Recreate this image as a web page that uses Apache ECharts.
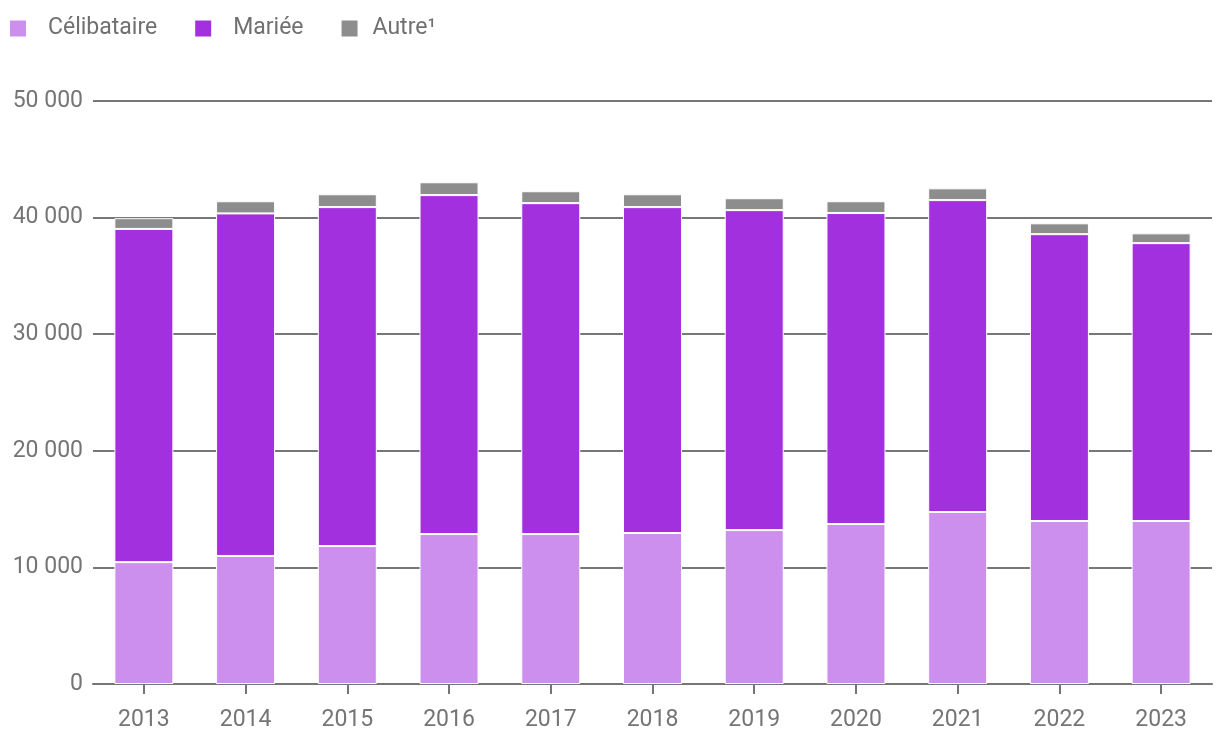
<!DOCTYPE html>
<html>
<head>
<meta charset="utf-8">
<script src="https://cdn.jsdelivr.net/npm/echarts@6/dist/echarts.min.js"></script>
<style>
html,body{margin:0;padding:0;background:#fff;}
#chart{width:1220px;height:752px;}
</style>
</head>
<body>
<div id="chart"></div>
<script>
const years = ['2013','2014','2015','2016','2017','2018','2019','2020','2021','2022','2023'];
const celibataire = [10450, 10980, 11830, 12860, 12860, 12950, 13200, 13720, 14750, 13980, 13980];
const mariee = [28580, 29380, 29070, 29070, 28380, 27950, 27440, 26670, 26750, 24600, 23830];
const autre = [920, 1040, 1100, 1100, 1020, 1100, 1020, 1010, 1010, 930, 840];
const seriesNames = ['Célibataire', 'Mariée', 'Autre¹'];
const colors = ['#cc8fee', '#a230df', '#8d8d8d'];

const chart = echarts.init(document.getElementById('chart'));
const fmt = v => v === 0 ? '0' : String(v).replace(/\B(?=(\d{3})+(?!\d))/g, ' ');
const dataSets = [celibataire, mariee, autre];

chart.setOption({
  animation: false,
  color: colors,
  textStyle: { fontFamily: 'Roboto' },
  legend: {
    left: 10,
    top: 17,
    padding: 0,
    itemWidth: 16,
    itemHeight: 16,
    itemGap: 38,
    icon: 'rect',
    itemStyle: { borderWidth: 0 },
    textStyle: { fontSize: 23, color: '#707070', fontFamily: 'Roboto' },
    data: [
      { name: seriesNames[0], textStyle: { padding: [0, 0, 0, 17] } },
      { name: seriesNames[1], textStyle: { padding: [0, 0, 0, 17] } },
      { name: seriesNames[2], textStyle: { padding: [0, 0, 0, 10] } }
    ]
  },
  grid: { left: 93, right: 8, top: 101, bottom: 68, containLabel: false },
  xAxis: {
    type: 'category',
    data: years,
    axisLine: { lineStyle: { color: '#757575', width: 2 } },
    axisTick: { show: true, alignWithLabel: true, length: 10, lineStyle: { color: '#757575', width: 2 } },
    axisLabel: { fontSize: 23, color: '#757575', margin: 25, fontFamily: 'Roboto' }
  },
  yAxis: {
    type: 'value',
    min: 0,
    max: 50000,
    interval: 10000,
    axisLine: { show: false },
    axisTick: { show: false },
    axisLabel: { fontSize: 23, color: '#757575', margin: 10, formatter: fmt, fontFamily: 'Roboto' },
    splitLine: { lineStyle: { color: '#777777', width: 2 } }
  },
  series: seriesNames.map((n, i) => ({
    name: n,
    type: 'bar',
    stack: 'total',
    data: dataSets[i],
    barWidth: '58%',
    itemStyle: { color: colors[i], borderColor: '#ffffff', borderWidth: 1 }
  }))
});
</script>
</body>
</html>
